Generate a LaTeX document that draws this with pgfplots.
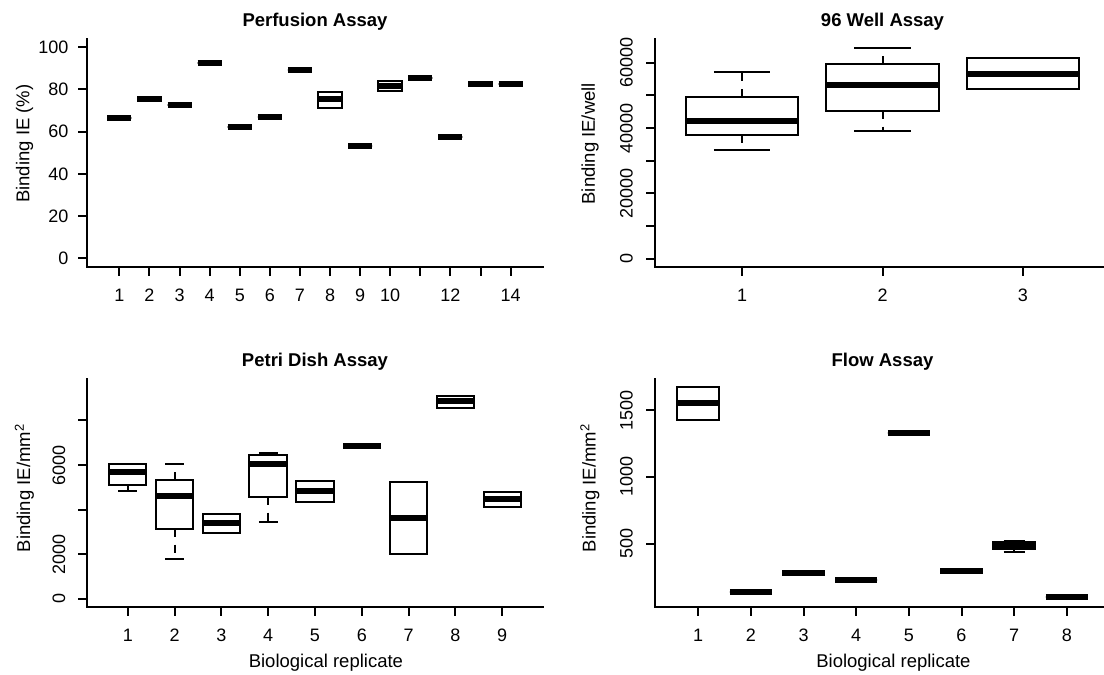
\documentclass[border=0pt]{standalone}
\usepackage{fontspec}
\setmainfont{Liberation Sans}
\usepackage{pgfplots}
\pgfplotsset{compat=1.18}

% R-like panel
\pgfplotsset{
  rpanel/.style={
    scale only axis, width=455pt, height=228pt,
    axis lines*=left,
    axis line style={-, line width=2pt, line cap=rect},
    enlargelimits=false, clip=false,
    scaled y ticks=false,
    tick align=outside, major tick length=9pt,
    tick style={black, line width=2pt},
    tick label style={font=\fontsize{18}{20}\selectfont, inner sep=0pt},
    xticklabel shift=13pt,
    yticklabel shift=10pt,
    every axis title shift=0pt,
    title style={font=\bfseries\fontsize{18.5}{22}\selectfont,
      at={(axis description cs:0.5,1.0526)}, anchor=base},
    every axis x label/.style={at={(axis description cs:0.524,-0.245)}, anchor=center,
      font=\fontsize{18.5}{22}\selectfont},
  },
  ylab/.style 2 args={every axis y label/.style={at={(axis description cs:#1,#2)},
      rotate=90, anchor=center, font=\fontsize{18.5}{22}\selectfont}},
  rotlabels/.style={yticklabel style={rotate=90, anchor=south}, yticklabel shift=13pt},
  rl/.style={black, line width=2pt},
}

% position, lower whisker, lower quartile, median, upper quartile, upper whisker
\newcommand{\rbox}[6]{%
  \pgfmathsetmacro\rxa{#1-0.4}\pgfmathsetmacro\rxb{#1+0.4}%
  \pgfmathsetmacro\rxc{#1-0.2}\pgfmathsetmacro\rxd{#1+0.2}%
  \addplot[rl, dash pattern=on 8pt off 8pt] coordinates {(#1,#3) (#1,#2)};
  \addplot[rl, dash pattern=on 8pt off 8pt] coordinates {(#1,#5) (#1,#6)};
  \addplot[rl] coordinates {(\rxc,#2) (\rxd,#2)};
  \addplot[rl] coordinates {(\rxc,#6) (\rxd,#6)};
  \addplot[rl] coordinates {(\rxa,#3) (\rxb,#3) (\rxb,#5) (\rxa,#5) (\rxa,#3) (\rxb,#3)};
  \addplot[black, line width=6pt] coordinates {(\rxa,#4) (\rxb,#4)};
}
\newcommand{\rone}[2]{\rbox{#1}{#2}{#2}{#2}{#2}{#2}}

\begin{document}
\begin{tikzpicture}[x=1pt,y=1pt]
\useasboundingbox (0,0) rectangle (1104,675);
\clip (0,0) rectangle (1104,675);

% Perfusion
\begin{axis}[rpanel, at={(87.5pt,408.3pt)}, anchor=south west,
  title={Perfusion Assay},
  xmin=-0.06, xmax=15.06, ymin=-4, ymax=104,
  xtick={1,...,14}, xticklabels={1,2,3,4,5,6,7,8,9,10,,12,,14},
  ytick={0,20,40,60,80,100}, yticklabels={0,20,40,60,80,100},
  yticklabel style={anchor=east},
  ylabel={Binding IE (\%)}, ylab={-0.1385}{0.5395}]
\rone{1}{66.6}
\rone{2}{75.2}
\rone{3}{72.6}
\rone{4}{92.3}
\rone{5}{62.3}
\rone{6}{67.0}
\rone{7}{89.1}
\rbox{8}{71.1}{71.1}{75.4}{78.7}{78.7}
\rone{9}{53.0}
\rbox{10}{79.3}{79.3}{81.6}{84.0}{84.0}
\rone{11}{85.3}
\rone{12}{57.3}
\rone{13}{82.6}
\rone{14}{82.5}
\end{axis}

% 96 Well
\begin{axis}[rpanel, rotlabels, at={(655pt,408.3pt)}, anchor=south west,
  title={96 Well Assay},
  xmin=0.38, xmax=3.62, ymin=-2460, ymax=67370,
  xtick={1,2,3}, xticklabels={1,2,3},
  ytick={0,10000,20000,30000,40000,50000,60000},
  yticklabels={0,,20000,,40000,,60000},
  ylabel={Binding IE/well}, ylab={-0.1429}{0.5395}]
\rbox{1}{33170}{37780}{42290}{49660}{57130}
\rbox{2}{39110}{45360}{53140}{59690}{64610}
\rbox{3}{51810}{51810}{56620}{61330}{61330}
\end{axis}

% Petri Dish
\begin{axis}[rpanel, rotlabels, at={(87.5pt,68.3pt)}, anchor=south west,
  title={Petri Dish Assay},
  xmin=0.14, xmax=9.86, ymin=-360, ymax=9875,
  xtick={1,...,9}, xticklabels={1,2,3,4,5,6,7,8,9},
  ytick={0,2000,4000,6000,8000}, yticklabels={0,2000,,6000,},
  xlabel={Biological replicate},
  ylabel={Binding IE/mm\textsuperscript{2}}, ylab={-0.1385}{0.5197}]
\rbox{1}{4850}{5100}{5700}{6045}{6045}
\rbox{2}{1780}{3140}{4610}{5330}{6030}
\rbox{3}{2960}{2960}{3400}{3820}{3820}
\rbox{4}{3430}{4580}{6060}{6450}{6550}
\rbox{5}{4340}{4340}{4820}{5280}{5280}
\rone{6}{6870}
\rbox{7}{2020}{2020}{3640}{5220}{5220}
\rbox{8}{8560}{8560}{8860}{9100}{9100}
\rbox{9}{4115}{4115}{4460}{4800}{4800}
\end{axis}

% Flow
\begin{axis}[rpanel, rotlabels, at={(655pt,68.3pt)}, anchor=south west,
  title={Flow Assay},
  xmin=0.18, xmax=8.82, ymin=28.6, ymax=1734.5,
  xtick={1,...,8}, xticklabels={1,2,3,4,5,6,7,8},
  ytick={500,1000,1500}, yticklabels={500,1000,1500},
  xlabel={Biological replicate},
  ylabel={Binding IE/mm\textsuperscript{2}}, ylab={-0.1429}{0.5197}]
\rbox{1}{1425}{1425}{1550}{1670}{1670}
\rone{2}{141}
\rone{3}{280}
\rone{4}{228}
\rone{5}{1325}
\rone{6}{295}
\rbox{7}{438}{460}{482}{510}{519}
\rone{8}{98}
\end{axis}
\end{tikzpicture}
\end{document}
